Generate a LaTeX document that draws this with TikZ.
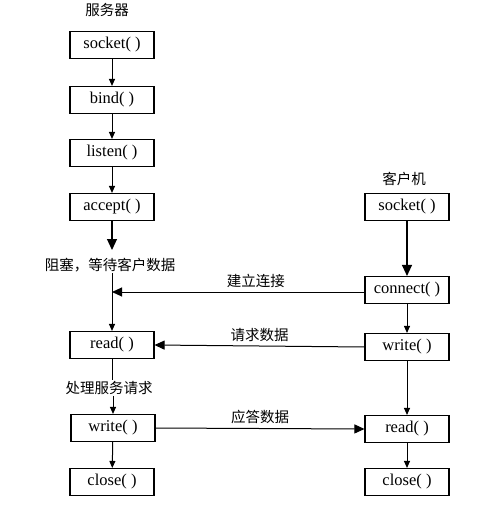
\documentclass[tikz,border=0pt]{standalone}
\usepackage{fontspec}
\setmainfont{Liberation Serif}
\newfontfamily\cjk{Noto Sans CJK SC}
\usetikzlibrary{arrows.meta}

\begin{document}
\begin{tikzpicture}[x=1pt,y=-1pt,
        box/.style={draw, line width=1.1pt, minimum width=84pt, minimum height=27pt, inner sep=0pt, font=\fontsize{16.5}{18}\selectfont},
        lbl/.style={font=\cjk\fontsize{14.5}{16}\selectfont, inner sep=1pt},
        arr/.style={line width=1pt, -{Triangle[length=7pt,width=6pt]}},
        bigarr/.style={line width=1.1pt, -{Triangle[length=11pt,width=10pt]}},
        harr/.style={line width=1pt, -{Triangle[length=10pt,width=9pt]}}]
        \useasboundingbox (0,0) rectangle (494,505);
        \node[lbl] (srv) at (107,10) {服务器};
        \node[box] (s1) at (112,45) {socket( )};
        \node[box] (s2) at (112,100) {bind( )};
        \node[box] (s3) at (112,153) {listen( )};
        \node[box] (s4) at (112,207) {accept( )};
        \node[lbl] (wait) at (110,265) {阻塞，等待客户数据};
        \node[box] (s5) at (112,345) {read( )};
        \node[lbl] (proc) at (109,388) {处理服务请求};
        \node[box] (s6) at (113,428) {write( )};
        \node[box] (s7) at (112,482) {close( )};
        \node[lbl] (cli) at (404,179) {客户机};
        \node[box] (c1) at (407,207) {socket( )};
        \node[box] (c2) at (407,290) {connect( )};
        \node[box] (c3) at (407,347) {write( )};
        \node[box] (c4) at (407,429) {read( )};
        \node[box] (c5) at (407,482) {close( )};
        \coordinate (tip) at (112,250);
        \coordinate (join) at (112,292);
        \draw[arr] (s1) -- (s2);
        \draw[arr] (s2) -- (s3);
        \draw[arr] (s3) -- (s4);
        \draw[bigarr] (s4) -- (tip);
        \draw[arr] (wait.south -| s5) -- (s5);
        \draw[line width=1pt] (s5) -- (proc.north -| s5);
        \draw[arr] (proc.south -| s6) -- (s6);
        \draw[arr] (s6) -- (s7);
        \draw[bigarr] (c1) -- (c2);
        \draw[arr] (c2) -- (c3);
        \draw[arr] (c3) -- (c4);
        \draw[arr] (c4) -- (c5);
        \draw[harr] (c2.west |- join) -- node[lbl, above=3pt, pos=0.43] {建立连接} (join);
        \draw[harr] (c3.west) -- node[lbl, above=3pt] {请求数据} (s5.east);
        \draw[harr] (s6.east) -- node[lbl, above=3pt] {应答数据} (c4.west);
    \end{tikzpicture}
\end{document}
